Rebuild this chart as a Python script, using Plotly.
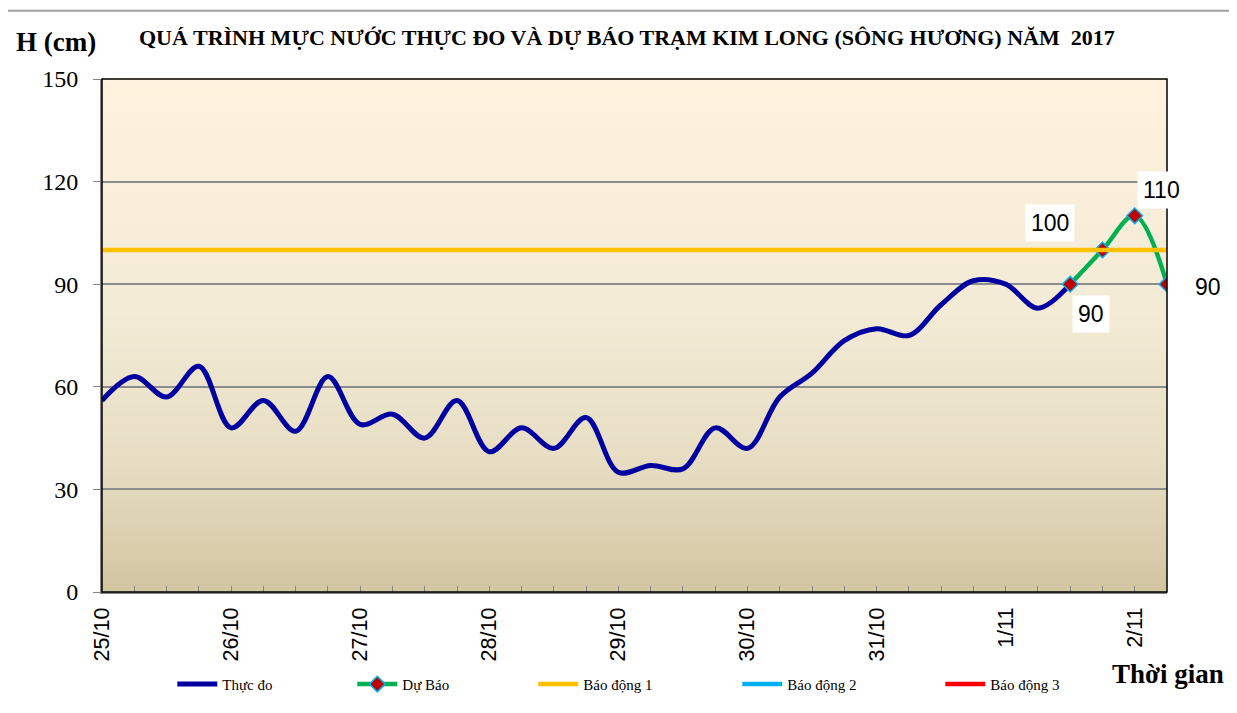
import plotly.graph_objects as go

# ---------------- data ----------------
tick_labels = ["25/10", "26/10", "27/10", "28/10", "29/10", "30/10", "31/10", "1/11", "2/11"]
tick_step = 4  # one label per 4 observations (6-hourly data)

observed = [56, 63, 57, 66, 48, 56, 47, 63, 49, 52, 45, 56, 41, 48, 42, 51,
            35, 37, 36, 48, 42, 57, 64, 73.5, 77, 75, 84, 91, 90, 83, 90]
forecast = [90, 100, 110, 90]
alarm_names = ["Báo động 1", "Báo động 2", "Báo động 3"]
alarm_values = [100, 200, 350]
y_ticks = [0, 30, 60, 90, 120, 150]

n_obs = len(observed)
x_obs = list(range(n_obs))
x_fc = list(range(n_obs - 1, n_obs - 1 + len(forecast)))
x_all = list(range(0, x_fc[-1] + 1))

# page body has an 8px margin: figure is offset by (8, 8) on screen
OFF = 8
FIG_W, FIG_H = 1221, 697
PL, PT, PR, PB = 101.7, 79.0, 1166.7, 591.7          # plot area in screen px
PW, PH = PR - PL, PB - PT

def px(sx):
    return (sx - PL) / PW

def py(sy):
    return (PB - sy) / PH

# ---------------- figure ----------------
fig = go.Figure()

legend_keys = ["legend", "legend2", "legend3", "legend4", "legend5"]
legend_x_screen = [172, 352, 533, 737, 940]

fig.add_trace(go.Scatter(
    x=x_obs, y=observed, mode="lines", name="Thực đo", legend=legend_keys[0],
    line=dict(color="#0000A0", width=5, shape="spline", smoothing=1.0),
))
fig.add_trace(go.Scatter(
    x=x_fc, y=forecast, mode="lines+markers", name="Dự Báo", legend=legend_keys[1],
    line=dict(color="#00B050", width=4.5, shape="spline", smoothing=1.0),
    marker=dict(symbol="diamond", size=12, color="#C00000",
                line=dict(color="#00B0F0", width=1.5)),
))
alarm_colors = ["#FFC000", "#00B0F0", "#FF0000"]
for k, (name, lvl, col) in enumerate(zip(alarm_names, alarm_values, alarm_colors)):
    fig.add_trace(go.Scatter(
        x=x_all, y=[lvl] * len(x_all), mode="lines", name=name, legend=legend_keys[2 + k],
        line=dict(color=col, width=4.5),
    ))

# data labels for forecast points
label_offsets = [(21, 30), (-52, -27), (27, -26), (41, 3)]
for xv, yv, (ax, ay) in zip(x_fc, forecast, label_offsets):
    fig.add_annotation(
        x=xv, y=yv, xref="x", yref="y", text=str(yv), showarrow=True,
        arrowcolor="rgba(0,0,0,0)", ax=ax, ay=ay,
        bgcolor="white", borderpad=5,
        font=dict(family="Liberation Sans, Arial", size=23, color="black"),
    )

# gradient background for plot area
def hex2rgb(h):
    h = h.lstrip("#")
    return tuple(int(h[i:i + 2], 16) for i in (0, 2, 4))

stops = [(0.0, "#FFF2DE"), (0.45, "#F3EBD6"), (0.75, "#E6DDC3"), (1.0, "#D3C5A1")]

def color_at(t):
    for (t0, c0), (t1, c1) in zip(stops[:-1], stops[1:]):
        if t0 <= t <= t1:
            f = (t - t0) / (t1 - t0)
            a, b = hex2rgb(c0), hex2rgb(c1)
            return "rgb(%d,%d,%d)" % tuple(round(a[i] + (b[i] - a[i]) * f) for i in range(3))
    return stops[-1][1]

shapes = []
nb = 80
for i in range(nb):
    t = (i + 0.5) / nb
    shapes.append(dict(type="rect", xref="x domain", yref="y domain",
                       x0=0, x1=1, y0=1 - (i + 1) / nb, y1=1 - i / nb + 0.002,
                       fillcolor=color_at(t), line=dict(width=0), layer="below"))
# plot border (top/right black)
shapes.append(dict(type="rect", xref="x domain", yref="y domain", x0=0, x1=1, y0=0, y1=1,
                   line=dict(color="black", width=1.5), layer="above"))
# outer chart frame (top edge)
shapes.append(dict(type="line", xref="paper", yref="paper",
                   x0=px(0), x1=px(1240), y0=py(10.7), y1=py(10.7),
                   line=dict(color="#A0A0A0", width=2)))

legend_font = dict(family="Liberation Serif, Times New Roman", size=15, color="black")
legend_layouts = {}
for key, sx in zip(legend_keys, legend_x_screen):
    legend_layouts[key] = dict(orientation="h", x=px(sx), xanchor="left", y=py(684), yanchor="middle",
                               font=legend_font, bgcolor="rgba(0,0,0,0)", itemwidth=40)

fig.update_layout(
    width=FIG_W, height=FIG_H,
    margin=dict(l=PL - OFF, r=FIG_W - (PR - OFF), t=PT - OFF, b=FIG_H - (PB - OFF), autoexpand=False),
    paper_bgcolor="white", plot_bgcolor="rgba(0,0,0,0)",
    shapes=shapes,
    showlegend=True,
    font=dict(family="Liberation Serif, Times New Roman", color="black"),
    **legend_layouts,
)

fig.update_xaxes(
    range=[0, x_all[-1]], tickmode="array",
    tickvals=x_all[::tick_step], ticktext=tick_labels,
    tickangle=-90, tickfont=dict(family="Liberation Sans, Arial", size=21.5, color="black"),
    ticks="inside", ticklen=6, tickcolor="#868686", ticklabelstandoff=5,
    minor=dict(tickmode="linear", tick0=0, dtick=1, ticks="inside", ticklen=6, tickcolor="#868686"),
    showgrid=False, zeroline=False, showline=True, linecolor="#868686", linewidth=2,
    fixedrange=True,
)
fig.update_yaxes(
    range=[0, 150], tickmode="array", tickvals=y_ticks,
    tickfont=dict(family="Liberation Serif, Times New Roman", size=24, color="black"),
    ticks="outside", ticklen=7, tickcolor="#868686", ticklabelstandoff=10,
    showgrid=True, gridcolor="#8C8C8C", gridwidth=1.5,
    zeroline=False, showline=True, linecolor="#868686", linewidth=2,
    fixedrange=True,
)

# titles
fig.add_annotation(
    xref="paper", yref="paper", x=px(627), y=py(38), xanchor="center", yanchor="middle",
    text="<b>QUÁ TRÌNH MỰC NƯỚC THỰC ĐO VÀ DỰ BÁO TRẠM KIM LONG (SÔNG HƯƠNG) NĂM  2017</b>",
    showarrow=False, font=dict(family="Liberation Serif, Times New Roman", size=22, color="black"),
)
fig.add_annotation(
    xref="paper", yref="paper", x=px(14), y=py(42), xanchor="left", yanchor="middle",
    text="<b>H (cm)</b>", showarrow=False,
    font=dict(family="Liberation Serif, Times New Roman", size=27, color="black"),
)
fig.add_annotation(
    xref="paper", yref="paper", x=px(1226), y=py(674), xanchor="right", yanchor="middle",
    text="<b>Thời gian</b>", showarrow=False,
    font=dict(family="Liberation Serif, Times New Roman", size=27, color="black"),
)

fig.write_html("out.html")
